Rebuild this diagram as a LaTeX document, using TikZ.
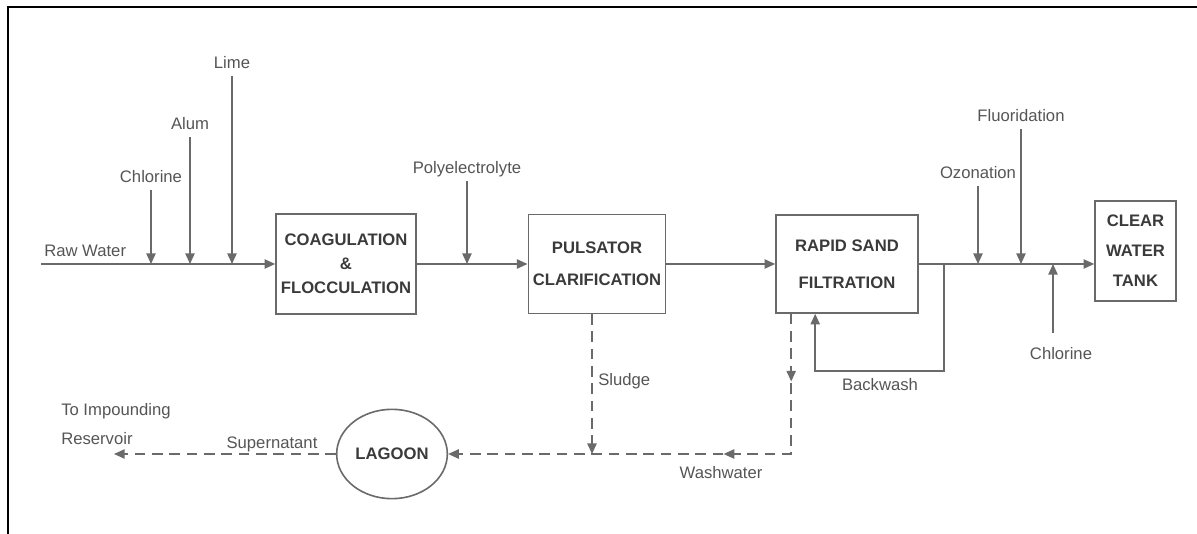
\documentclass[tikz,border=0pt]{standalone}
\usepackage{fontspec}
\setmainfont{Liberation Sans}
\usetikzlibrary{arrows.meta,positioning,shapes.geometric,calc,decorations.markings}
\definecolor{ink}{HTML}{3A3A3A}
\definecolor{muted}{HTML}{555555}
\definecolor{line}{HTML}{6A6A6A}

\begin{document}
\begin{tikzpicture}[x=0.75pt,y=-0.75pt,
  >={Triangle[length=8pt,width=7pt]},
  unit block/.style={draw=line,line width=1.2pt,align=center,inner sep=2pt,text=ink,font=\bfseries\fontsize{12.5}{18}\selectfont},
  note/.style={text=muted,font=\fontsize{12.5}{17}\selectfont,text height=9pt,text depth=2.5pt,inner sep=3pt},
  flow/.style={color=line,line width=1.1pt,->},
  drain/.style={flow,dash pattern=on 8pt off 5pt},
  midtip/.style={postaction={decorate,decoration={markings,mark=at position #1 with {\arrow{>}}}}}
]
  \useasboundingbox (0,0) rectangle (1197,534);
  \draw[line width=2.2pt] (8,534) -- (8,7) -- (1197,7);

  \node[unit block,minimum width=105pt,minimum height=75pt] (coag) at (346,264) {COAGULATION\\\&\\FLOCCULATION};
  \node[unit block,minimum width=103pt,minimum height=74pt] (puls) at (597,264) {PULSATOR\\[6pt]CLARIFICATION};
  \node[unit block,minimum width=106.5pt,minimum height=73.5pt] (rsf) at (847,264) {RAPID SAND\\[10pt]FILTRATION};
  \node[unit block,minimum width=60.75pt,minimum height=75pt] (cwt) at (1135.5,251) {CLEAR\\[4.5pt]WATER\\[4.5pt]TANK};
  \node[unit block,ellipse,inner sep=0pt,minimum width=83pt,minimum height=67pt] (lag) at (392,454) {LAGOON};

  \coordinate (raw) at (41,264);
  \node[note,anchor=base west] (rawtxt) at (40,257) {Raw Water};
  \draw[flow] (raw) -- (coag);
  \draw[flow] (coag) -- (puls);
  \draw[flow] (puls) -- (rsf);
  \draw[flow] (rsf.east) -- (rsf.east -| cwt.west);

  \node[note] (cl) at (151,178) {Chlorine};
  \node[note] (alum) at (190,125) {Alum};
  \node[note] (lime) at (232,64) {Lime};
  \node[note] (poly) at (467,169) {Polyelectrolyte};
  \node[note] (ozon) at (978,174) {Ozonation};
  \node[note] (fluor) at (1021,117) {Fluoridation};
  \draw[flow] (cl) -- (cl |- raw);
  \draw[flow] (alum) -- (alum |- raw);
  \draw[flow] (lime) -- (lime |- raw);
  \draw[flow] (poly) -- (poly |- coag.east);
  \draw[flow] (ozon) -- (ozon |- rsf.east);
  \draw[flow] (fluor) -- (fluor |- rsf.east);

  \coordinate (clin) at (1053,333);
  \node[note] (cl2) at (1061,355) {Chlorine};
  \draw[flow] (clin) -- (clin |- rsf.east);

  \draw[flow] ($(rsf.east)+(25,0)$) |- ($(rsf.south west)+(40,57)$) -- ($(rsf.south west)+(40,0)$);
  \node[note] (bw) at (880,386) {Backwash};

  \coordinate (wwtop) at ($(rsf.south west)+(16,0)$);
  \coordinate (wwcorner) at (wwtop |- lag);
  \draw[drain,midtip=0.14,midtip=0.43] (wwtop) -- (wwcorner) -- (lag);
  \node[note] (ww) at (721,474) {Washwater};

  \coordinate (sgtop) at ($(puls.south)+(-5,0)$);
  \draw[drain] (sgtop) -- (sgtop |- lag);
  \node[note,anchor=west] (sg) at (594,381) {Sludge};

  \coordinate (outlet) at (114,454);
  \draw[drain] (lag) -- (outlet);
  \node[note] (sup) at (272,444) {Supernatant};
  \node[note,text height=,text depth=,align=left,anchor=west] (res) at (57,424) {To Impounding\\[5pt]Reservoir};
\end{tikzpicture}
\end{document}
